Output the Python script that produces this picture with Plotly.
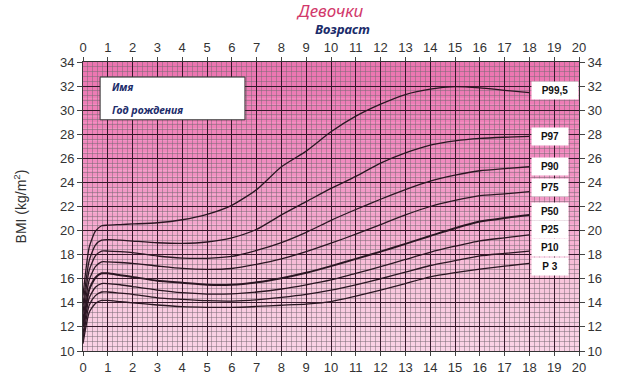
import plotly.graph_objects as go

# ---------------- data ----------------
ages = [0, 0.25, 0.5, 0.75, 1, 1.5, 2, 3, 4, 5, 6, 7, 8, 9, 10, 11, 12, 13, 14, 15, 16, 17, 18]

p3 = [10.6, 13.2, 13.95, 14.2, 14.2, 14.1, 14.0, 13.82, 13.68, 13.63, 13.62, 13.7, 13.8, 13.9,
      14.1, 14.55, 15.05, 15.6, 16.15, 16.5, 16.8, 17.05, 17.27]
p10 = [11.0, 13.8, 14.6, 14.9, 14.9, 14.8, 14.7, 14.42, 14.29, 14.18, 14.15, 14.25, 14.45, 14.7,
       15.05, 15.5, 16.0, 16.55, 17.1, 17.5, 17.9, 18.1, 18.3]
p25 = [11.4, 14.4, 15.3, 15.6, 15.6, 15.5, 15.35, 15.06, 14.84, 14.73, 14.75, 14.9, 15.15, 15.5,
       15.9, 16.45, 17.0, 17.6, 18.2, 18.7, 19.15, 19.4, 19.65]
p50 = [12.0, 15.1, 16.1, 16.45, 16.45, 16.3, 16.15, 15.84, 15.67, 15.5, 15.5, 15.7, 16.05, 16.5,
       17.05, 17.65, 18.25, 18.9, 19.55, 20.2, 20.75, 21.05, 21.3]
p75 = [12.6, 15.9, 17.0, 17.4, 17.4, 17.35, 17.28, 17.06, 16.86, 16.78, 16.85, 17.2, 17.65, 18.25,
       18.95, 19.7, 20.5, 21.3, 22.0, 22.5, 22.9, 23.05, 23.23]
p90 = [13.2, 16.7, 17.9, 18.3, 18.3, 18.25, 18.17, 17.89, 17.72, 17.7, 17.85, 18.35, 19.0, 19.85,
       20.85, 21.75, 22.6, 23.4, 24.1, 24.6, 24.97, 25.15, 25.3]
p97 = [13.8, 17.5, 18.8, 19.2, 19.25, 19.2, 19.13, 18.99, 18.94, 19.05, 19.4, 20.1, 21.3, 22.4,
       23.5, 24.5, 25.6, 26.45, 27.1, 27.45, 27.65, 27.75, 27.82]
p995 = [14.6, 18.6, 19.95, 20.4, 20.45, 20.5, 20.55, 20.65, 20.9, 21.35, 22.1, 23.4, 25.3, 26.6,
        28.2, 29.5, 30.5, 31.3, 31.75, 31.95, 31.85, 31.65, 31.45]

series_names = ["P 3", "P10", "P25", "P50", "P75", "P90", "P97", "P99,5"]
series_vals = [p3, p10, p25, p50, p75, p90, p97, p995]
label_y = [17.0, 18.6, 20.05, 21.58, 23.58, 25.36, 27.85, 31.63]

x_ticks = list(range(0, 21))
y_ticks = list(range(10, 35, 2))

# ---------------- figure ----------------
LINE = "#2a1622"
fig = go.Figure()
for name, vals in zip(series_names, series_vals):
    fig.add_trace(go.Scatter(
        x=ages, y=vals, mode="lines", name=name,
        line=dict(color=LINE, width=2.0 if name == "P50" else 1.3, shape="spline", smoothing=0.6),
        hoverinfo="skip", showlegend=False))

# invisible trace for mirrored axes
fig.add_trace(go.Scatter(x=ages, y=p50, xaxis="x2", yaxis="y2", mode="lines",
                         line=dict(width=0), opacity=0, hoverinfo="skip", showlegend=False))

# gradient background bands
def lerp(c1, c2, t):
    return tuple(int(round(a + (b - a) * t)) for a, b in zip(c1, c2))

stops = [(10, (250, 212, 230)), (16, (248, 196, 219)), (20, (245, 170, 207)),
         (26, (240, 138, 190)), (34, (236, 116, 176))]
shapes = []
n = 48
for i in range(n):
    y0 = 10 + 24 * i / n
    y1 = 10 + 24 * (i + 1) / n
    ym = (y0 + y1) / 2
    for (a, ca), (b, cb) in zip(stops[:-1], stops[1:]):
        if a <= ym <= b:
            c = lerp(ca, cb, (ym - a) / (b - a))
            break
    shapes.append(dict(type="rect", xref="paper", yref="y", x0=0, x1=1, y0=y0, y1=y1,
                       fillcolor="rgb(%d,%d,%d)" % c, line=dict(width=0), layer="below"))

# name / birth-year box
shapes.append(dict(type="rect", xref="x", yref="y", x0=0.69, x1=6.53, y0=29.2, y1=32.75,
                   fillcolor="white", line=dict(color="#333", width=1), layer="above"))

# page pixel -> paper coords (plot area spans x 83..579, y 62..351)
def px(xp):
    return (xp - 83) / 496.0

def py(yp):
    return (351 - yp) / 289.0

annotations = [
    dict(text="Имя", x=1.1, y=31.9, xref="x", yref="y", xanchor="left", showarrow=False,
         font=dict(family="Noto Sans", size=10.5, color="#1d2d6b", style="italic", weight="bold")),
    dict(text="Год рождения", x=1.1, y=30.0, xref="x", yref="y", xanchor="left", showarrow=False,
         font=dict(family="Noto Sans", size=10.5, color="#1d2d6b", style="italic", weight="bold")),
    dict(text="Девочки", x=px(330), y=py(11), xref="paper", yref="paper", showarrow=False,
         yanchor="middle",
         font=dict(family="Noto Sans", size=17, color="#d2386b", style="italic")),
    dict(text="Возраст", x=px(342), y=py(29.5), xref="paper", yref="paper", showarrow=False,
         yanchor="middle",
         font=dict(family="Noto Sans", size=13, color="#1b2c6a", style="italic", weight="bold")),
]

for name, ly in zip(series_names, label_y):
    w = 44 if name == "P99,5" else 34
    annotations.append(dict(text="<b>%s</b>" % name, x=18.05, y=ly, xref="x", yref="y",
                            xanchor="left", yanchor="middle", showarrow=False,
                            bgcolor="white", width=w, height=15, align="center",
                            font=dict(family="Liberation Sans", size=10, color="#111")))

axis_font = dict(family="Liberation Sans", size=13, color="#333")
common_x = dict(range=[0, 20], tickvals=x_ticks, ticks="outside", ticklen=4, tickcolor="#444",
                tickfont=axis_font, zeroline=False, showline=True, linecolor="#333", linewidth=1,
                automargin=False)
common_y = dict(range=[10, 34], tickvals=y_ticks, ticks="outside", ticklen=5, tickcolor="#444",
                tickfont=axis_font, zeroline=False, showline=True, linecolor="#333", linewidth=1,
                automargin=False)

fig.update_layout(
    width=625, height=380,
    margin=dict(l=83, r=46, t=62, b=29, autoexpand=False),
    paper_bgcolor="white", plot_bgcolor="rgb(250,212,230)",
    shapes=shapes, annotations=annotations,
    xaxis=dict(**common_x, showgrid=True, gridcolor="#35192a", gridwidth=1.1,
               minor=dict(dtick=0.2, tick0=0, showgrid=True, gridcolor="rgba(120,105,115,0.5)",
                          gridwidth=1)),
    xaxis2=dict(**common_x, overlaying="x", side="top", showgrid=False),
    yaxis=dict(**common_y, showgrid=True, gridcolor="#35192a", gridwidth=1.1,
               minor=dict(dtick=0.4, tick0=10, showgrid=True, gridcolor="rgba(120,105,115,0.5)",
                          gridwidth=1),
               title=dict(text="BMI (kg/m<sup>2</sup>)", standoff=30,
                          font=dict(family="Liberation Sans", size=14, color="#333"))),
    yaxis2=dict(**common_y, overlaying="y", side="right", showgrid=False),
)

# remove the default page margin so the figure sits at the window's top-left corner
fig.write_html("out.html", config={"displayModeBar": False},
               post_script="document.body.style.margin='0';")
